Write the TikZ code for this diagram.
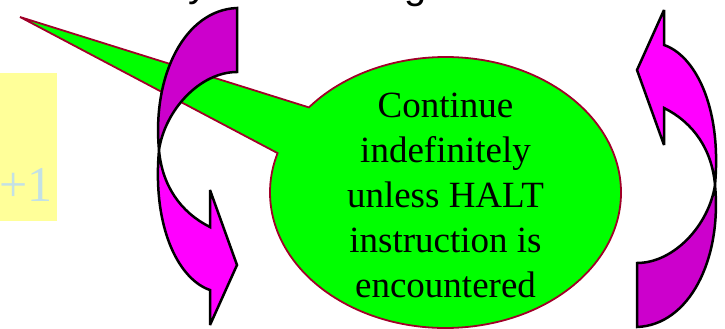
\documentclass[tikz,border=0pt]{standalone}
\usepackage{fontspec}
\setmainfont{Liberation Serif}
\newfontfamily\titlefont{Liberation Sans}

\definecolor{bubblegreen}{RGB}{0,255,0}
\definecolor{bubbleline}{RGB}{160,0,40}
\definecolor{ribbonback}{RGB}{204,0,204}
\definecolor{ribbonfront}{RGB}{255,0,255}
\definecolor{padyellow}{RGB}{255,255,153}
\definecolor{padtext}{RGB}{195,225,230}

\tikzset{
    ribbon/.style={draw=black, line width=2.5pt, line join=miter, miter limit=4},
    pics/twistarrow/.style={code={
        \draw[ribbon, fill=ribbonback] (237,8) -- (237,72) .. controls (200,72) and (165,110) .. (159,150)
            .. controls (152,75) and (185,10) .. (237,8) -- cycle;
        \draw[ribbon, fill=ribbonfront] (159,150) .. controls (152,230) and (180,280) .. (210,290)
            -- (210,325) -- (237,265) -- (210,190) -- (210,227)
            .. controls (180,212) and (162,185) .. (159,150) -- cycle;
    }}
}

\begin{document}
\begin{tikzpicture}[
        x=1pt, y=-1pt,
        bubble/.style={draw=bubbleline, line width=1.8pt, fill=bubblegreen},
        bubbletext/.style={font=\fontsize{37}{45}\selectfont, align=center, inner sep=0pt},
        titlebit/.style={font=\titlefont\fontsize{40}{48}\selectfont, anchor=base, inner sep=0pt},
        pad/.style={fill=padyellow, minimum width=57pt, minimum height=148pt, inner sep=0pt, anchor=north west}
    ]
        \clip (0,0) rectangle (725,329);

        % Title (cut off at the top)
        \node[titlebit] (ty) at (198,-3) {y};
        \node[titlebit] (tg) at (416,-1) {g};

        % Yellow pad
        \node[pad] (padbox) at (0,73) {};
        \node[font=\fontsize{50}{50}\selectfont, text=padtext, anchor=base west, inner sep=0pt] (plusone) at (-1,201) {+1};

        % Callout
        \coordinate (tip) at (20,17);
        \coordinate (c) at (445.5,192.5);
        \draw[bubble] (tip) -- ([shift={(141.1:175.5pt and 135.5pt)}]c)
            arc[start angle=141.1, end angle=-196.9, x radius=175.5pt, y radius=135.5pt] -- cycle;

        % Curved arrows
        \pic (leftarrow) at (0,0) {twistarrow};
        \pic[rotate=180] (rightarrow) at (874,335) {twistarrow};

        \node[bubbletext] (msg) at (445.5,195) {Continue\\indefinitely\\unless HALT\\instruction is\\encountered};
    \end{tikzpicture}
\end{document}
